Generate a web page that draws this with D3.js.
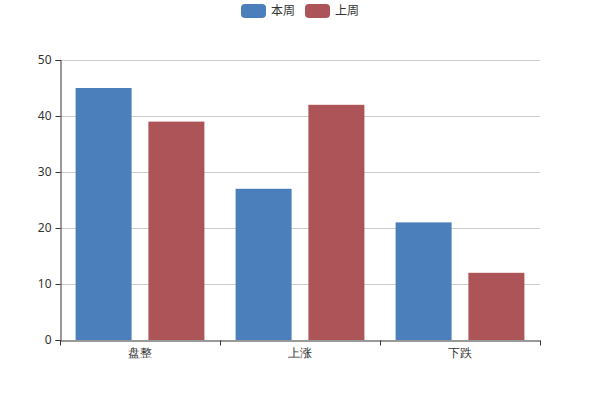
<!DOCTYPE html>
<html><head><meta charset="utf-8">
<script src="https://cdn.jsdelivr.net/npm/d3@7"></script>
<style>body{margin:0;background:#fff}svg{display:block;font-family:"Noto Sans CJK SC","Noto Sans",sans-serif}</style>
</head><body><svg id="c" width="600" height="400"></svg>
<script>
const categories = ["盘整", "上涨", "下跌"];
const seriesNames = ["本周", "上周"];
const thisWeek = [45, 27, 21];
const lastWeek = [39, 42, 12];
const yTicks = [0, 10, 20, 30, 40, 50];
const colors = ["#4b7fbb", "#ad5458"];

const svg = d3.select("#c");
const m = {l: 60, r: 60, t: 60, b: 60};
const W = 600, H = 400;
const x = d3.scaleBand().domain(categories).range([m.l, W - m.r]);
const y = d3.scaleLinear().domain([0, 50]).range([H - m.b, m.t]);
const series = [thisWeek, lastWeek];

// grid
svg.append("g").selectAll("line").data(yTicks.filter(d => d > 0)).join("line")
  .attr("x1", m.l).attr("x2", W - m.r)
  .attr("y1", d => y(d) + 0.5).attr("y2", d => y(d) + 0.5)
  .attr("stroke", "#ccc");

// bars
const bw = x.bandwidth() * 0.35;
const gap = bw * 0.3;
const off = (x.bandwidth() - (2 * bw + gap)) / 2;
series.forEach((vals, si) => {
  svg.append("g").selectAll("rect").data(vals).join("rect")
    .attr("x", (d, i) => x(categories[i]) + off + si * (bw + gap))
    .attr("width", bw)
    .attr("y", d => y(d))
    .attr("height", d => y(0) - y(d))
    .attr("fill", colors[si]);
});

// y axis
const ya = svg.append("g").attr("transform", `translate(${m.l + 0.5},0)`)
  .call(d3.axisLeft(y).tickValues(yTicks).tickSize(5).tickPadding(4));
ya.select(".domain").attr("stroke", "#333");
ya.selectAll(".tick line").attr("stroke", "#333");
ya.selectAll("text").attr("fill", "#333").style("font-size", "12px").style("font-family", "'Noto Sans',sans-serif");

// x axis
const xa = svg.append("g").attr("transform", `translate(0,${H - m.b + 0.5})`)
  .call(d3.axisBottom(x).tickSize(0).tickPadding(8));
xa.select(".domain").attr("stroke", "#333");
xa.selectAll("text").attr("fill", "#333").style("font-size", "12px");
const bounds = [m.l, ...categories.map(c => x(c) + x.bandwidth())];
xa.selectAll(".bt").data(bounds).join("line")
  .attr("x1", d => Math.round(d) + 0.5).attr("x2", d => Math.round(d) + 0.5)
  .attr("y1", 0).attr("y2", 5).attr("stroke", "#333");

// legend
const leg = svg.append("g");
const lx = [241, 305];
seriesNames.forEach((n, i) => {
  leg.append("rect").attr("x", lx[i]).attr("y", 4).attr("width", 25).attr("height", 14)
    .attr("rx", 4).attr("fill", colors[i]);
  leg.append("text").attr("x", lx[i] + 30).attr("y", 11).attr("dy", "0.35em")
    .attr("fill", "#333").style("font-size", "12px").text(n);
});
</script></body></html>
